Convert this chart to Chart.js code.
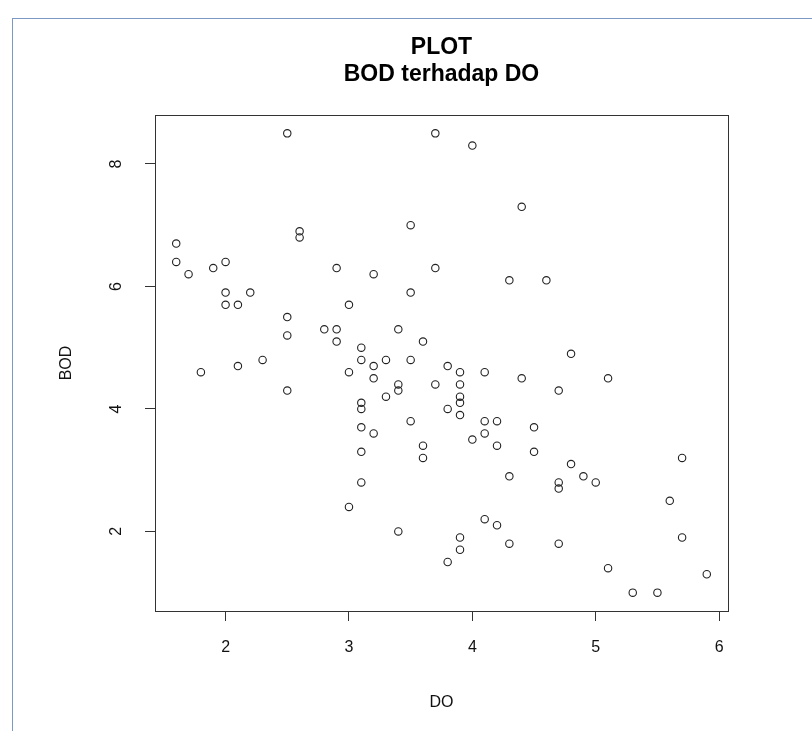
<!DOCTYPE html>
<html>
<head>
<meta charset="utf-8">
<script src="https://cdn.jsdelivr.net/npm/chart.js@4/dist/chart.umd.min.js"></script>
<style>
  html, body { margin: 0; padding: 0; background: #ffffff; }
  #wrap { position: relative; width: 812px; height: 731px; overflow: hidden; }
  #frame { position: absolute; left: 12px; top: 18px; right: -2px; bottom: -2px;
           border-left: 1px solid #7b99c4; border-top: 1px solid #7b99c4; }
  #c { position: absolute; left: 0; top: 0; }
</style>
</head>
<body>
<div id="wrap">
  <div id="frame"></div>
  <canvas id="c" width="812" height="731"></canvas>
</div>
<script>
// ---- data ----
const titleLines = ['PLOT', 'BOD terhadap DO'];
const xLabel = 'DO';
const yLabel = 'BOD';
const xTicks = [2, 3, 4, 5, 6];
const yTicks = [2, 4, 6, 8];
const DO  = [2.5, 3.7, 4.0, 4.4, 3.5, 2.6, 2.6, 1.6, 1.6, 1.7, 1.9, 2.0, 2.9, 3.2, 3.7, 4.3, 4.6,
             2.0, 2.2, 3.5, 2.0, 2.1, 3.0, 2.5, 2.8, 2.9, 3.4, 2.5, 2.9, 3.6, 3.1, 4.8,
             2.3, 3.1, 3.3, 3.5, 2.1, 3.2, 3.8, 1.8, 3.0, 3.9, 4.1, 3.2, 4.4, 5.1,
             3.4, 3.7, 3.9, 2.5, 3.4, 4.7, 3.3, 3.9, 3.9, 3.1, 3.1, 3.8, 3.9,
             3.5, 4.1, 4.2, 3.1, 4.5, 3.2, 4.1, 4.0, 3.6, 4.2, 3.1, 4.5, 3.6, 5.7, 4.8,
             4.3, 4.9, 3.1, 4.7, 5.0, 4.7, 5.6, 3.0, 4.1, 4.2, 3.4, 3.9, 5.7, 4.3, 4.7,
             3.9, 3.8, 5.1, 5.9, 5.3, 5.5];
const BOD = [8.5, 8.5, 8.3, 7.3, 7.0, 6.9, 6.8, 6.7, 6.4, 6.2, 6.3, 6.4, 6.3, 6.2, 6.3, 6.1, 6.1,
             5.9, 5.9, 5.9, 5.7, 5.7, 5.7, 5.5, 5.3, 5.3, 5.3, 5.2, 5.1, 5.1, 5.0, 4.9,
             4.8, 4.8, 4.8, 4.8, 4.7, 4.7, 4.7, 4.6, 4.6, 4.6, 4.6, 4.5, 4.5, 4.5,
             4.4, 4.4, 4.4, 4.3, 4.3, 4.3, 4.2, 4.2, 4.1, 4.1, 4.0, 4.0, 3.9,
             3.8, 3.8, 3.8, 3.7, 3.7, 3.6, 3.6, 3.5, 3.4, 3.4, 3.3, 3.3, 3.2, 3.2, 3.1,
             2.9, 2.9, 2.8, 2.8, 2.8, 2.7, 2.5, 2.4, 2.2, 2.1, 2.0, 1.9, 1.9, 1.8, 1.8,
             1.7, 1.5, 1.4, 1.3, 1.0, 1.0];

// R-style axis limits: data range extended by 4% on each side
function rLimits(arr) {
  const lo = Math.min(...arr), hi = Math.max(...arr), d = (hi - lo) * 0.04;
  return [lo - d, hi + d];
}
const [xMin, xMax] = rLimits(DO);
const [yMin, yMax] = rLimits(BOD);

const points = DO.map((x, i) => ({ x: x, y: BOD[i] }));

const FONT = "'Liberation Sans', Arial, sans-serif";
const TXT = '#111111';

const boxPlugin = {
  id: 'rbox',
  afterDraw(chart) {
    const a = chart.chartArea, ctx = chart.ctx;
    ctx.save();
    ctx.strokeStyle = '#333333';
    ctx.lineWidth = 1;
    ctx.strokeRect(Math.round(a.left) + 0.5, Math.round(a.top) + 0.5,
                   Math.round(a.right - a.left), Math.round(a.bottom - a.top));
    ctx.restore();
  }
};

new Chart(document.getElementById('c'), {
  type: 'scatter',
  data: {
    datasets: [{
      data: points,
      pointStyle: 'circle',
      pointRadius: 3.7,
      pointBorderWidth: 1.1,
      borderColor: '#222222',
      backgroundColor: 'rgba(0,0,0,0)',
      pointBackgroundColor: 'rgba(0,0,0,0)',
      pointBorderColor: '#222222'
    }]
  },
  options: {
    responsive: false,
    animation: false,
    devicePixelRatio: 1,
    layout: { padding: { left: 0, right: 84, top: 0, bottom: 0 } },
    plugins: {
      legend: { display: false },
      tooltip: { enabled: false },
      title: {
        display: true,
        fullSize: false,
        text: titleLines,
        color: '#000000',
        font: { family: FONT, size: 23, weight: 'bold', lineHeight: 27 / 23 },
        padding: { top: 34.5, bottom: 26.5 }
      }
    },
    scales: {
      x: {
        type: 'linear',
        min: xMin, max: xMax,
        afterBuildTicks(s) { s.ticks = xTicks.map(v => ({ value: v })); },
        afterFit(s) { s.height = 120; },
        border: { display: false },
        grid: { display: true, drawOnChartArea: false, drawTicks: true, tickLength: 10,
                color: '#333333', tickColor: '#333333', lineWidth: 1 },
        ticks: { color: TXT, font: { family: FONT, size: 16 }, padding: 17,
                 minRotation: 0, maxRotation: 0, autoSkip: false },
        title: { display: true, text: xLabel, color: TXT,
                 font: { family: FONT, size: 16, lineHeight: 1.2 },
                 padding: { top: 0, bottom: 18.4 } }
      },
      y: {
        type: 'linear',
        min: yMin, max: yMax,
        afterBuildTicks(s) { s.ticks = yTicks.map(v => ({ value: v })); },
        afterFit(s) { s.width = 155; },
        border: { display: false },
        grid: { display: true, drawOnChartArea: false, drawTicks: true, tickLength: 10,
                color: '#333333', tickColor: '#333333', lineWidth: 1 },
        ticks: { color: TXT, font: { family: FONT, size: 16 }, padding: 24,
                 minRotation: 90, maxRotation: 90, crossAlign: 'center', autoSkip: false },
        title: { display: true, text: yLabel, color: TXT,
                 font: { family: FONT, size: 16, lineHeight: 1.2 },
                 padding: { top: 57.4, bottom: 0 } }
      }
    }
  },
  plugins: [boxPlugin]
});
</script>
</body>
</html>
